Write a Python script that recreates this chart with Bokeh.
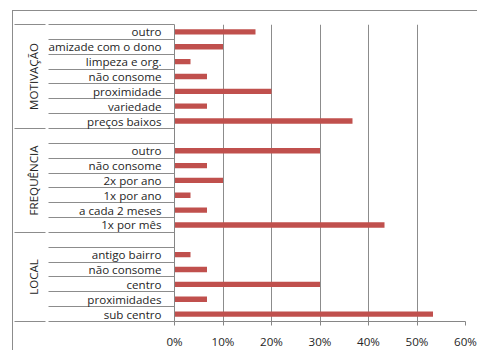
from bokeh.plotting import figure
from bokeh.models import (Range1d, LinearAxis, FixedTicker, PrintfTickFormatter,
                          ColumnDataSource)
from bokeh.embed import file_html
from bokeh.resources import INLINE

# ---------------- data ----------------
group_names = ["MOTIVAÇÃO", "FREQUÊNCIA", "LOCAL"]

motivacao_labels = ["outro", "amizade com o dono", "limpeza e org.", "não consome",
                    "proximidade", "variedade", "preços baixos"]
motivacao_values = [16.7, 10.0, 3.3, 6.7, 20.0, 6.7, 36.7]

frequencia_labels = ["outro", "não consome", "2x por ano", "1x por ano",
                     "a cada 2 meses", "1x por mês"]
frequencia_values = [30.0, 6.7, 10.0, 3.3, 6.7, 43.3]

local_labels = ["antigo bairro", "não consome", "centro", "proximidades", "sub centro"]
local_values = [3.3, 6.7, 30.0, 6.7, 53.3]

x_ticks = [0, 10, 20, 30, 40, 50, 60]

# ---------------- layout of rows (top to bottom, blank row heading groups 2 and 3) ----
group_labels = [motivacao_labels, frequencia_labels, local_labels]
group_values = [motivacao_values, frequencia_values, local_values]

n_rows = sum(len(l) for l in group_labels) + len(group_names) - 1
ys, names, vals = [], [], []
group_centers, group_bounds = [], [float(n_rows)]
row = 0
for gi, (labels, values) in enumerate(zip(group_labels, group_values)):
    start = row
    if gi > 0:
        row += 1
    for lab, v in zip(labels, values):
        ys.append(n_rows - row - 0.5)
        names.append(lab)
        vals.append(v)
        row += 1
    group_centers.append(n_rows - (start + row) / 2.0)
    group_bounds.append(float(n_rows - row))
row_bounds = [float(i) for i in range(n_rows + 1)]

FONT = "Open Sans"
FS = "11.6px"
TXT = "#262626"
GRID = "#8c8c8c"
AX = "#868686"

p = figure(width=465, height=340, x_range=Range1d(0, 60), y_range=Range1d(0, n_rows),
           output_backend="svg", toolbar_location=None, y_axis_location=None,
           min_border_left=161, min_border_right=13, min_border_top=13, min_border_bottom=28)
p.margin = (10, 0, 0, 12)
p.styles = {"border-left": "1px solid #8c8c8c", "border-top": "1px solid #8c8c8c"}
p.outline_line_color = None
p.background_fill_color = "white"
p.border_fill_color = "white"
p.ygrid.visible = False

# x axis
p.xaxis.ticker = FixedTicker(ticks=x_ticks)
p.xaxis.formatter = PrintfTickFormatter(format="%d%%")
p.xaxis.major_tick_out = 4
p.xaxis.major_tick_in = 0
p.xaxis.minor_tick_out = 0
p.xaxis.minor_tick_in = 0
p.xaxis.axis_line_color = AX
p.xaxis.major_tick_line_color = AX
p.xaxis.major_label_text_font = FONT
p.xaxis.major_label_text_font_size = FS
p.xaxis.major_label_text_color = TXT
p.xaxis.major_label_standoff = 8
p.xgrid.ticker = FixedTicker(ticks=x_ticks)
p.xgrid.grid_line_color = GRID

# category axis with separators (minor ticks at row boundaries)
SEP = 126
cat_axis = LinearAxis(
    ticker=FixedTicker(ticks=ys, minor_ticks=row_bounds),
    major_label_overrides={y: n for y, n in zip(ys, names)},
    major_tick_out=0, major_tick_in=0, major_tick_line_color=None,
    minor_tick_in=0, minor_tick_out=SEP, minor_tick_line_color=GRID,
    axis_line_color=AX, major_label_standoff=13 - SEP,
    major_label_text_font=FONT, major_label_text_font_size=FS,
    major_label_text_color=TXT)
p.add_layout(cat_axis, "left")

# group axis
GSEP = 31
grp_axis = LinearAxis(
    ticker=FixedTicker(ticks=group_centers, minor_ticks=group_bounds),
    major_label_overrides={y: n for y, n in zip(group_centers, group_names)},
    major_label_orientation="vertical",
    major_tick_out=0, major_tick_in=0, major_tick_line_color=None,
    minor_tick_in=0, minor_tick_out=GSEP, minor_tick_line_color=GRID,
    axis_line_color=None, major_label_standoff=4 - GSEP,
    major_label_text_font=FONT, major_label_text_font_size=FS,
    major_label_text_color=TXT)
p.add_layout(grp_axis, "left")

src = ColumnDataSource(dict(y=ys, v=vals, name=names))
p.hbar(y="y", left=0, right="v", height=0.36, source=src,
       fill_color="#C0504D", line_color=None)

open("out.html", "w").write(file_html(p, INLINE))
